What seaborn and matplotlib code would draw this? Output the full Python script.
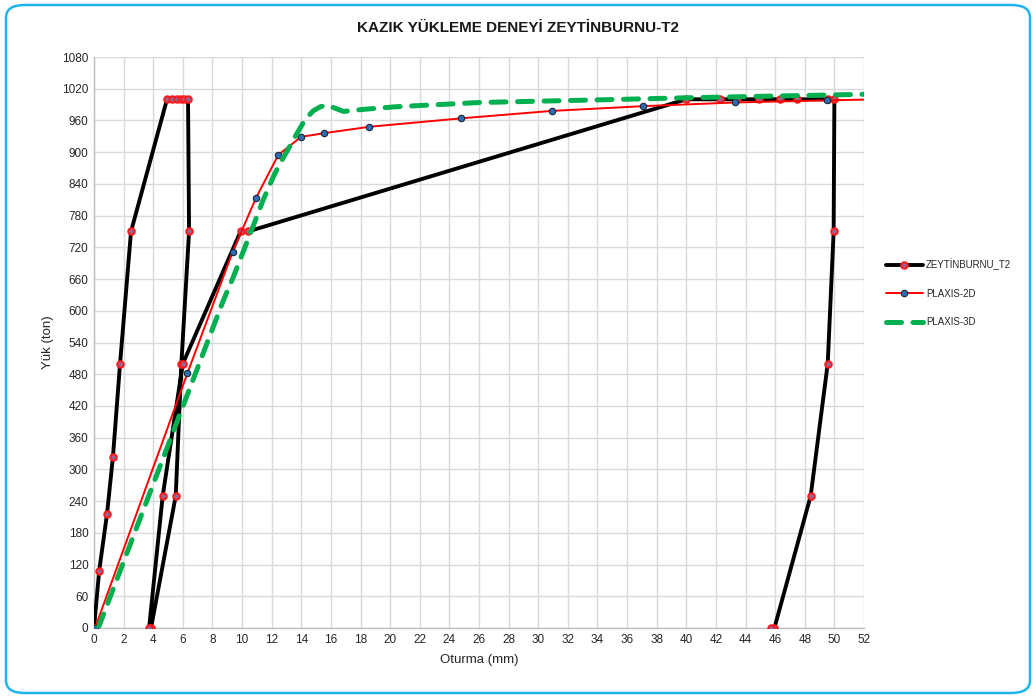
import seaborn as sns
import matplotlib
matplotlib.use("Agg")
import matplotlib.pyplot as plt
from matplotlib.patches import FancyBboxPatch

# load test data (ZEYTINBURNU_T2)
testX = [0, 0.35, 0.88, 1.28, 1.76, 2.5, 4.93, 5.3, 5.6, 5.9, 6.1, 6.35, 6.42, 5.9, 5.52,
         3.85, 3.72, 4.64, 6.0, 9.9, 10.4, 40.0, 42.3, 43.4, 44.9, 46.3, 47.5, 49.6, 50.0,
         49.95, 49.55, 48.4, 45.95, 45.75]
testY = [0, 108, 216, 324, 500, 750, 1000, 1000, 1000, 1000, 1000, 1000, 750, 500, 250,
         0, 0, 250, 500, 750, 750, 1000, 1000, 1000, 1000, 1000, 1000, 1000, 1000,
         750, 500, 250, 0, 0]

# PLAXIS-2D
p2dX = [0.07, 6.31, 9.37, 10.95, 12.45, 13.99, 15.56, 18.6, 24.8, 30.9, 37.07, 43.3, 49.5, 53.0]
p2dY = [0, 482, 712, 814, 895, 929, 936, 948, 964, 978, 987, 994, 998, 1000]

# PLAXIS-3D
p3dX = [0.29, 5.81, 8.74, 9.41, 10.54, 11.4, 12.1, 12.57, 13.2, 13.7, 14.26, 14.8, 15.3,
        15.72, 16.3, 16.85, 18.2, 20.45, 26.1, 34.2, 40.3, 53.0]
p3dY = [0, 405, 620, 664, 745, 808, 853, 879, 910, 935, 962, 978, 986,
        989, 983, 977, 981, 986, 994, 999, 1003, 1010]

xTicks = list(range(0, 53, 2))
yTicks = list(range(0, 1081, 60))

FONT = ["Liberation Sans", "DejaVu Sans"]


def main():
    sns.set_style("white")
    plt.rcParams["font.family"] = FONT

    fig = plt.figure(figsize=(10.36, 6.98), dpi=100)
    ax = fig.add_axes([94 / 1036, 70 / 698, 770 / 1036, 571 / 698])

    # grid
    ax.set_xticks(xTicks)
    ax.set_yticks(yTicks)
    ax.grid(True, color="#d9d9d9", linewidth=1.0)
    ax.set_axisbelow(True)
    for side in ["top", "right"]:
        ax.spines[side].set_visible(False)
    for side in ["left", "bottom"]:
        ax.spines[side].set_color("#bfbfbf")
        ax.spines[side].set_linewidth(1.0)

    # series
    sns.lineplot(x=testX, y=testY, sort=False, estimator=None, ax=ax, color="black",
                 linewidth=2.8, marker="o", markersize=4.6, markerfacecolor="#8c6a9c",
                 markeredgecolor="#ff1a1a", markeredgewidth=1.5, label="ZEYTİNBURNU_T2",
                 zorder=3)
    sns.lineplot(x=p2dX, y=p2dY, sort=False, estimator=None, ax=ax, color="#ff0000",
                 linewidth=1.4, marker="o", markersize=4.6, markerfacecolor="#2e6db4",
                 markeredgecolor="#1a2535", markeredgewidth=0.8, label="PLAXIS-2D",
                 zorder=4)
    sns.lineplot(x=p3dX, y=p3dY, sort=False, estimator=None, ax=ax, color="#00b050",
                 linewidth=3.6, label="PLAXIS-3D", zorder=5)
    green = ax.lines[-1]
    green.set_dashes([3.0, 2.3])
    green.set_dash_capstyle("round")

    ax.set_xlim(0, 52)
    ax.set_ylim(0, 1080)
    ax.tick_params(axis="both", labelsize=8.5, colors="#262626", length=0, pad=4)
    ax.set_xlabel("Oturma (mm)", fontsize=9.5, color="#262626", labelpad=6)
    ax.set_ylabel("Yük (ton)", fontsize=9.5, color="#262626", labelpad=6)

    ax.get_legend().remove()
    handles, labels = ax.get_legend_handles_labels()
    fig.legend(handles, labels, loc="center left", bbox_to_anchor=(886 / 1036, 1 - 293 / 698),
               frameon=False, fontsize=7, handlelength=3.8, handletextpad=0.3,
               labelspacing=1.9, borderpad=0, borderaxespad=0)

    fig.text(0.5, 1 - 28 / 698, "KAZIK YÜKLEME DENEYİ ZEYTİNBURNU-T2", ha="center",
             va="center", fontsize=11, fontweight="bold", color="#1a1a1a")

    # rounded chart border
    border = FancyBboxPatch((6 / 1036, 5 / 698), 1024 / 1036, 688 / 698,
                            boxstyle="round,pad=0,rounding_size=0.018",
                            transform=fig.transFigure, facecolor="none",
                            edgecolor="#1fb4f0", linewidth=1.8)
    fig.patches.append(border)

    fig.savefig("out.png", dpi=100)


main()
